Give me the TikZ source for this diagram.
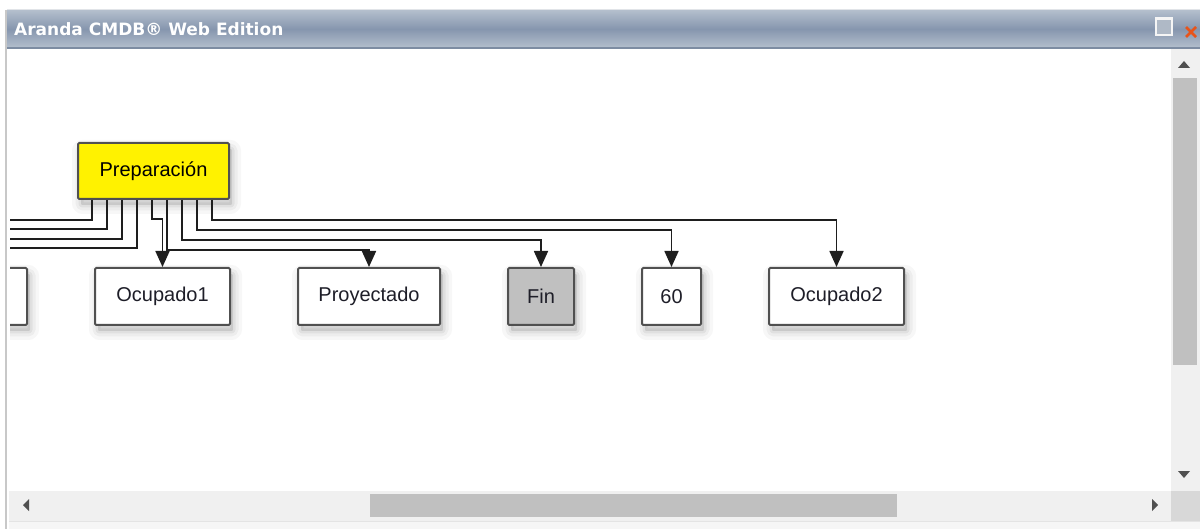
\documentclass[tikz,border=0pt]{standalone}
\usepackage{fontspec}
\setmainfont{Liberation Sans}
\newfontfamily\titlefont{DejaVu Sans}
\usetikzlibrary{arrows.meta}
\definecolor{bordc}{HTML}{505050}
\definecolor{linec}{HTML}{1E1E1E}
\definecolor{txtc}{HTML}{1E1E28}
\definecolor{barlight}{HTML}{B4BFCD}
\definecolor{bardark}{HTML}{8696AE}
\definecolor{trackc}{HTML}{F0F0F0}
\definecolor{thumbc}{HTML}{C0C0C0}
\definecolor{arrowc}{HTML}{505050}
\definecolor{framec}{HTML}{C8C8C8}
\definecolor{toplinec}{HTML}{E1E4E8}
\definecolor{barlinec}{HTML}{7D8CA2}
\definecolor{restfill}{HTML}{AFB9C6}
\definecolor{restdraw}{HTML}{F5F5F5}
\definecolor{closec}{HTML}{E8541A}
\definecolor{cornerc}{HTML}{D8D8D8}
\definecolor{bottomc}{HTML}{F6F6F6}
\definecolor{bottomline}{HTML}{E4E4E4}
\tikzset{
  shadowlayer/.style={preaction={draw=black, draw opacity=#1, fill=none, line join=round,
      transform canvas={xshift=3pt,yshift=-6pt}}},
  softshadow/.style={
    preaction={draw=black, draw opacity=0.03, line width=18pt, line join=round, fill=black, fill opacity=0.10,
      transform canvas={xshift=3pt,yshift=-6pt}},
    preaction={draw=black, draw opacity=0.04, line width=11pt, line join=round,
      transform canvas={xshift=3pt,yshift=-6pt}},
    preaction={draw=black, draw opacity=0.05, line width=5pt, line join=round,
      transform canvas={xshift=3pt,yshift=-6pt}}},
  box/.style={softshadow, draw=bordc, line width=2pt, rounded corners=1.2pt, fill=white,
    minimum height=57pt, inner sep=0pt, text=txtc,
    font=\fontsize{20}{24}\selectfont},
  conn/.style={draw=linec, line width=1.7pt},
  arr/.style={conn, -{Triangle[width=14pt,length=16pt]}},
  scrollarrow/.style={fill=arrowc, draw=none}
}
\begin{document}
\begin{tikzpicture}[x=1pt,y=-1pt]
\useasboundingbox (0,0) rectangle (1200,529);
\fill[white] (0,0) rectangle (1200,529);
% window frame
\fill[white] (7,48) rectangle (1200,529);
\draw[line width=2pt, draw=framec] (6,10) -- (6,529);
% title bar
\shade[top color=barlight, bottom color=barlight, middle color=bardark] (7,10) rectangle (1200,48);
\draw[line width=1pt, draw=toplinec] (7,10) -- (1200,10);
\draw[line width=1.2pt, draw=barlinec] (7,48) -- (1200,48);
\node[anchor=west, inner sep=0pt, text=white, font=\titlefont\bfseries\fontsize{17}{19}\selectfont] (title) at (14,29) {Aranda CMDB® Web Edition};
% restore icon
\node[draw=restdraw, line width=1.5pt, fill=restfill, minimum width=16pt, minimum height=16pt, inner sep=0pt] (restore) at (1164,27) {};
\draw[line width=3pt, draw=restdraw] (restore.north west) -- (restore.north east);
% close icon
\coordinate (xc) at (1191,32);
\draw[line width=2.6pt, draw=closec] (xc) ++(-5,-5) -- ++(10,10) ++(-10,0) -- ++(10,-10);
% vertical scrollbar
\fill[trackc] (1171,49) rectangle (1200,491);
\fill[thumbc] (1173,78) rectangle (1197,365);
\fill[scrollarrow] (1178,68) -- (1190,68) -- (1184,61) -- cycle;
\fill[scrollarrow] (1178,471) -- (1190,471) -- (1184,478) -- cycle;
% horizontal scrollbar
\fill[trackc] (9,491) rectangle (1171,521);
\fill[thumbc] (370,494) rectangle (897,517);
\fill[cornerc] (1171,491) rectangle (1200,521);
\fill[scrollarrow] (29,499) -- (29,511) -- (23,505) -- cycle;
\fill[scrollarrow] (1152,499) -- (1152,511) -- (1158,505) -- cycle;
\fill[bottomc] (9,522) rectangle (1200,529);
\draw[line width=1pt, draw=bottomline] (9,521.5) -- (1200,521.5);
% diagram
\begin{scope}
\clip (10,49) rectangle (1170,490);
\node[box, fill=yellow, minimum width=151pt, minimum height=56pt, text=black] (prep) at (153.5,171) {Preparación};
\node[box, minimum width=134pt] (left) at (-40,296.5) {};
\node[box, minimum width=135pt] (oc1) at (162.5,296.5) {Ocupado1};
\node[box, minimum width=142pt] (proy) at (369,296.5) {Proyectado};
\node[box, fill=thumbc, minimum width=66pt] (fin) at (541,296.5) {Fin};
\node[box, minimum width=59pt] (sixty) at (671.5,296.5) {60};
\node[box, minimum width=135pt] (oc2) at (836.5,296.5) {Ocupado2};
\coordinate (l1) at (5,220);
\coordinate (l2) at (5,229);
\coordinate (l3) at (5,239);
\coordinate (l4) at (5,248);
\draw[conn] ([xshift=15pt]prep.south west) |- (l1);
\draw[conn] ([xshift=30pt]prep.south west) |- (l2);
\draw[conn] ([xshift=45pt]prep.south west) |- (l3);
\draw[conn] ([xshift=60pt]prep.south west) |- (l4);
\draw[arr] ([xshift=75pt]prep.south west) -- ++(0,19) -| (oc1.north);
\draw[arr] ([xshift=90pt]prep.south west) -- ++(0,50) -| (proy.north);
\draw[arr] ([xshift=105pt]prep.south west) -- ++(0,40) -| (fin.north);
\draw[arr] ([xshift=120pt]prep.south west) -- ++(0,30) -| (sixty.north);
\draw[arr] ([xshift=135pt]prep.south west) -- ++(0,20) -| (oc2.north);
\end{scope}
\end{tikzpicture}
\end{document}
